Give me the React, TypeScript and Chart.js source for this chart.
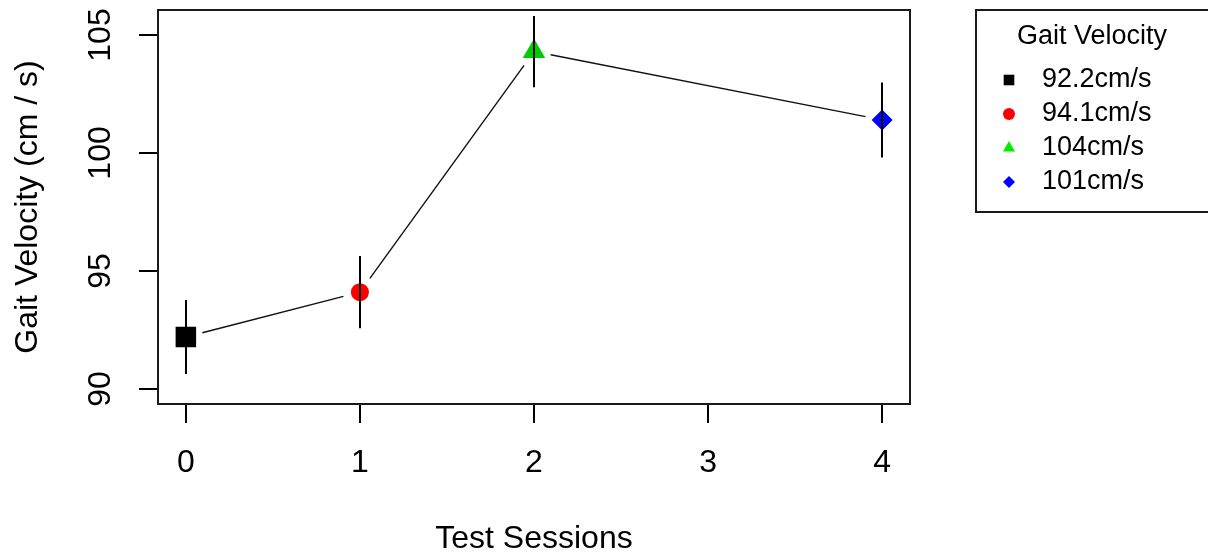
import { useEffect, useRef } from "react";
import { Chart, registerables } from "chart.js";
import { drawPoint } from "chart.js/helpers";

Chart.register(...registerables);

// Session numbers and mean gait velocity (cm/s) with error bar half-widths
const sessions = [0, 1, 2, 4];
const velocity = [92.2, 94.1, 104.3, 101.4];
const errorHalf = [1.57, 1.53, 1.51, 1.59];

// Marker styling per session
const pointColors = ["#000000", "#ff0000", "#00cd00", "#0000ff"];
const legendColors = ["#000000", "#ff0000", "#00ee00", "#0000ff"];
const pointShapes = ["rect", "circle", "triangle", "rectRot"];
const pointRadii = [14.5, 9, 13, 10.5];
const legendRadii = [7.5, 6, 7, 6];

// Axes
const xTicks = [0, 1, 2, 3, 4];
const yTicks = [90, 95, 100, 105];
const xLimits = [-0.16, 4.16];
const yLimits = [89.36, 106.06];
const xTitle = "Test Sessions";
const yTitle = "Gait Velocity (cm / s)";
const legendTitle = "Gait Velocity";
const legendLabels = velocity.map((v) => `${Number(v.toPrecision(3))}cm/s`);

const FONT = "'Liberation Sans', Arial, sans-serif";
const AXIS_PX = 32;
const LEGEND_PX = 27;

const overlay = {
  id: "overlay",
  beforeDatasetsDraw(chart: any) {
    const { ctx, scales } = chart;
    const xs = scales.x;
    const ys = scales.y;
    const gap = 17;
    ctx.save();
    ctx.strokeStyle = "#111";
    ctx.lineWidth = 1.4;
    for (let i = 0; i < sessions.length - 1; i++) {
      const x1 = xs.getPixelForValue(sessions[i]);
      const y1 = ys.getPixelForValue(velocity[i]);
      const x2 = xs.getPixelForValue(sessions[i + 1]);
      const y2 = ys.getPixelForValue(velocity[i + 1]);
      const d = Math.hypot(x2 - x1, y2 - y1);
      const ux = (x2 - x1) / d;
      const uy = (y2 - y1) / d;
      ctx.beginPath();
      ctx.moveTo(x1 + ux * gap, y1 + uy * gap);
      ctx.lineTo(x2 - ux * gap, y2 - uy * gap);
      ctx.stroke();
    }
    ctx.restore();
  },
  afterDatasetsDraw(chart: any) {
    const { ctx, scales } = chart;
    const xs = scales.x;
    const ys = scales.y;
    ctx.save();
    ctx.strokeStyle = "#000";
    ctx.lineWidth = 2;
    sessions.forEach((s, i) => {
      const px = Math.round(xs.getPixelForValue(s));
      ctx.beginPath();
      ctx.moveTo(px, ys.getPixelForValue(velocity[i] + errorHalf[i]));
      ctx.lineTo(px, ys.getPixelForValue(velocity[i] - errorHalf[i]));
      ctx.stroke();
    });
    ctx.restore();
  },
  afterDraw(chart: any) {
    const { ctx, chartArea, scales } = chart;
    const ys = scales.y;
    ctx.save();
    // plot frame
    ctx.strokeStyle = "#1a1a1a";
    ctx.lineWidth = 2;
    ctx.strokeRect(chartArea.left, chartArea.top, chartArea.right - chartArea.left, chartArea.bottom - chartArea.top);

    // rotated y tick labels
    ctx.fillStyle = "#000";
    ctx.font = `${AXIS_PX}px ${FONT}`;
    ctx.textAlign = "center";
    ctx.textBaseline = "middle";
    yTicks.forEach((t) => {
      const py = ys.getPixelForValue(t);
      ctx.save();
      ctx.translate(101, py);
      ctx.rotate(-Math.PI / 2);
      ctx.fillText(String(t), 0, 0);
      ctx.restore();
    });

    // legend box
    ctx.strokeRect(976, 10, 320, 202);
    ctx.font = `${LEGEND_PX}px ${FONT}`;
    ctx.textAlign = "center";
    ctx.fillText(legendTitle, 1092, 37);
    const rowY = [80, 114, 148, 182];
    ctx.textAlign = "left";
    legendLabels.forEach((lab, i) => {
      ctx.fillStyle = legendColors[i];
      drawPoint(ctx, { pointStyle: pointShapes[i], radius: legendRadii[i], rotation: 0, borderWidth: 0 } as any, 1009, rowY[i]);
      ctx.fillStyle = "#000";
      ctx.fillText(lab, 1042, rowY[i]);
    });
    ctx.restore();
  },
};

const zeroPadding = (s: any) => {
  s.paddingTop = 0;
  s.paddingBottom = 0;
  s.paddingLeft = 0;
  s.paddingRight = 0;
};

export default function App() {
  const canvasRef = useRef<HTMLCanvasElement | null>(null);

  useEffect(() => {
    const canvas = canvasRef.current;
    if (!canvas) return;
    const chart = new Chart(canvas, {
      type: "scatter",
      data: {
        datasets: [
          {
            label: legendTitle,
            data: sessions.map((s, i) => ({ x: s, y: velocity[i] })),
            pointStyle: pointShapes as any,
            backgroundColor: pointColors,
            borderColor: pointColors,
            pointRadius: pointRadii,
            pointHoverRadius: pointRadii,
            borderWidth: 0,
            showLine: false,
          },
        ],
      },
      options: {
        responsive: false,
        animation: false,
        events: [],
        layout: { autoPadding: false, padding: { top: 10, right: 298, left: 0, bottom: 0 } },
        plugins: { legend: { display: false }, tooltip: { enabled: false } },
        scales: {
          x: {
            type: "linear",
            min: xLimits[0],
            max: xLimits[1],
            afterBuildTicks: (s: any) => {
              s.ticks = xTicks.map((v) => ({ value: v }));
            },
            afterFit: (s: any) => {
              s.height = 152;
              zeroPadding(s);
            },
            ticks: {
              includeBounds: false,
              color: "#000",
              font: { family: FONT, size: AXIS_PX },
              padding: 21,
              callback: (v: any) => String(v),
            },
            grid: { display: true, drawOnChartArea: false, drawTicks: true, tickLength: 19, color: "#000", lineWidth: 2 },
            border: { display: false },
            title: { display: true, text: xTitle, color: "#000", font: { family: FONT, size: AXIS_PX }, padding: { top: 0, bottom: -2 } },
          },
          y: {
            type: "linear",
            min: yLimits[0],
            max: yLimits[1],
            afterBuildTicks: (s: any) => {
              s.ticks = yTicks.map((v) => ({ value: v }));
            },
            afterFit: (s: any) => {
              s.width = 158;
              zeroPadding(s);
            },
            ticks: { display: false, includeBounds: false },
            grid: { display: true, drawOnChartArea: false, drawTicks: true, tickLength: 19, color: "#000", lineWidth: 2 },
            border: { display: false },
            title: { display: true, text: yTitle, color: "#000", font: { family: FONT, size: AXIS_PX }, padding: { top: 9, bottom: 0 } },
          },
        },
      },
      plugins: [overlay],
    });
    return () => chart.destroy();
  }, []);

  return (
    <div style={{ position: "fixed", left: 0, top: 0, width: 1208, height: 556, background: "#fff" }}>
      <canvas ref={canvasRef} width={1208} height={556} />
    </div>
  );
}
